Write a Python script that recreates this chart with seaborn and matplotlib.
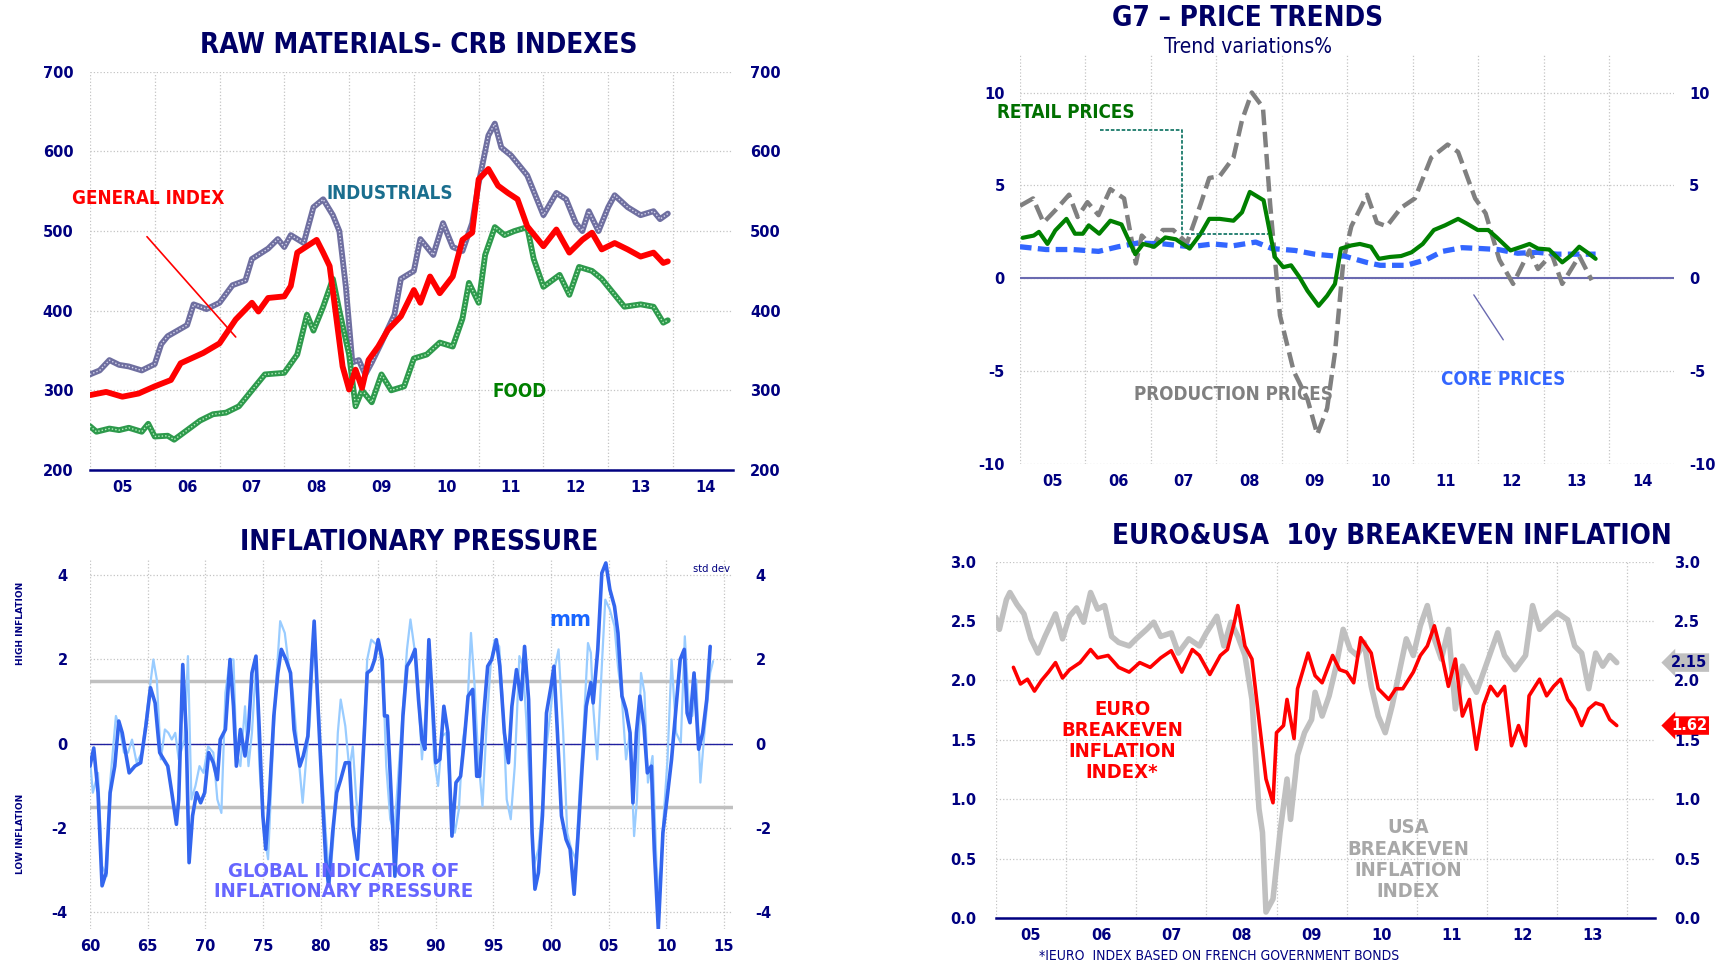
import numpy as np
import matplotlib
matplotlib.use("Agg")
import matplotlib.pyplot as plt
from matplotlib import font_manager as fm
import seaborn as sns

# ---------------- data ----------------
# CRB indexes
gen_x = [2005.0, 2005.25, 2005.5, 2005.75, 2006.0, 2006.25, 2006.4, 2006.75, 2007.0, 2007.25,
         2007.5, 2007.6, 2007.75, 2008.0, 2008.1, 2008.2, 2008.35, 2008.5, 2008.6, 2008.7,
         2008.8, 2008.9, 2009.0, 2009.1, 2009.2, 2009.3, 2009.45, 2009.6, 2009.8, 2010.0,
         2010.1, 2010.25, 2010.4, 2010.6, 2010.75, 2010.9, 2011.0, 2011.15, 2011.3, 2011.45,
         2011.6, 2011.75, 2012.0, 2012.2, 2012.4, 2012.6, 2012.75, 2012.9, 2013.1, 2013.3,
         2013.5, 2013.7, 2013.85, 2013.92]
gen_y = [294, 298, 292, 296, 305, 313, 334, 347, 359, 389,
         410, 399, 416, 418, 431, 473, 481, 489, 473, 456,
         393, 330, 301, 326, 303, 338, 355, 376, 393, 426,
         410, 443, 422, 443, 489, 498, 565, 578, 557, 548,
         540, 506, 481, 502, 473, 489, 498, 477, 485, 477,
         468, 473, 460, 462]
ind_x = [2005.0, 2005.15, 2005.3, 2005.45, 2005.6, 2005.8, 2006.0, 2006.1, 2006.2, 2006.35,
         2006.5, 2006.6, 2006.8, 2007.0, 2007.2, 2007.4, 2007.5, 2007.75, 2007.9, 2008.0,
         2008.1, 2008.3, 2008.45, 2008.6, 2008.75, 2008.85, 2008.95, 2009.05, 2009.15, 2009.25,
         2009.35, 2009.5, 2009.7, 2009.8, 2010.0, 2010.1, 2010.3, 2010.45, 2010.6, 2010.75,
         2010.9, 2011.0, 2011.15, 2011.25, 2011.35, 2011.5, 2011.75, 2011.9, 2012.0, 2012.2,
         2012.35, 2012.5, 2012.6, 2012.7, 2012.85, 2013.0, 2013.1, 2013.3, 2013.5, 2013.7,
         2013.8, 2013.92]
ind_y = [320, 325, 338, 332, 330, 325, 333, 358, 368, 375,
         382, 408, 402, 410, 432, 438, 465, 478, 490, 480,
         495, 485, 530, 540, 520, 500, 430, 335, 338, 320,
         335, 360, 395, 440, 450, 490, 470, 510, 480, 475,
         510, 560, 620, 635, 605, 595, 570, 540, 520, 548,
         540, 510, 500, 525, 500, 530, 545, 530, 520, 525,
         515, 522]
food_x = [2005.0, 2005.1, 2005.3, 2005.45, 2005.6, 2005.8, 2005.9, 2006.0, 2006.2, 2006.3,
          2006.5, 2006.7, 2006.9, 2007.1, 2007.3, 2007.5, 2007.7, 2008.0, 2008.2, 2008.35,
          2008.45, 2008.6, 2008.75, 2008.85, 2009.0, 2009.1, 2009.2, 2009.35, 2009.5, 2009.65,
          2009.85, 2010.0, 2010.2, 2010.4, 2010.6, 2010.75, 2010.85, 2011.0, 2011.1, 2011.25,
          2011.4, 2011.55, 2011.75, 2011.85, 2012.0, 2012.25, 2012.4, 2012.55, 2012.75, 2012.9,
          2013.1, 2013.25, 2013.5, 2013.7, 2013.85, 2013.92]
food_y = [255, 248, 252, 250, 253, 248, 258, 242, 243, 238,
          250, 262, 270, 272, 280, 300, 320, 322, 345, 395,
          375, 405, 440, 400, 345, 280, 300, 285, 320, 300,
          305, 340, 345, 360, 355, 390, 435, 410, 470, 505,
          495, 500, 505, 465, 430, 445, 420, 455, 450, 440,
          420, 405, 408, 405, 385, 388]

# G7 price trends
retail_x = [2005.04, 2005.21, 2005.29, 2005.42, 2005.54, 2005.71, 2005.84, 2005.96, 2006.05, 2006.21,
            2006.38, 2006.55, 2006.76, 2006.88, 2007.05, 2007.22, 2007.38, 2007.59, 2007.76, 2007.89,
            2008.05, 2008.26, 2008.39, 2008.51, 2008.72, 2008.89, 2009.02, 2009.14, 2009.27, 2009.39,
            2009.56, 2009.69, 2009.81, 2009.9, 2010.06, 2010.19, 2010.36, 2010.48, 2010.65, 2010.82,
            2010.98, 2011.15, 2011.32, 2011.49, 2011.69, 2011.82, 2011.99, 2012.15, 2012.28, 2012.49,
            2012.66, 2012.78, 2012.91, 2013.08, 2013.28, 2013.41, 2013.54, 2013.66, 2013.79]
retail_y = [2.18, 2.3, 2.5, 1.85, 2.58, 3.2, 2.4, 2.4, 2.85, 2.4,
            3.1, 2.9, 1.3, 1.85, 1.7, 2.2, 2.1, 1.6, 2.4, 3.2,
            3.2, 3.1, 3.55, 4.65, 4.2, 1.15, 0.6, 0.7, 0.05, -0.67,
            -1.48, -0.94, -0.3, 1.6, 1.77, 1.85, 1.7, 1.05, 1.15, 1.2,
            1.4, 1.85, 2.6, 2.85, 3.2, 2.95, 2.6, 2.6, 2.2, 1.5,
            1.7, 1.85, 1.6, 1.55, 0.86, 1.22, 1.7, 1.4, 1.05]
core_x = [2005.0, 2005.4, 2005.8, 2006.2, 2006.5, 2006.8, 2007.2, 2007.6, 2007.95, 2008.25,
          2008.6, 2008.85, 2009.2, 2009.5, 2009.8, 2009.95, 2010.3, 2010.5, 2010.9, 2011.2,
          2011.45, 2011.75, 2012.05, 2012.3, 2012.6, 2012.9, 2013.2, 2013.5, 2013.79]
core_y = [1.7, 1.55, 1.55, 1.45, 1.7, 1.9, 1.85, 1.7, 1.85, 1.75,
          1.95, 1.6, 1.5, 1.3, 1.2, 1.2, 0.85, 0.7, 0.7, 1.0,
          1.45, 1.65, 1.6, 1.55, 1.35, 1.4, 1.3, 1.3, 1.3]
prod_x = [2005.0, 2005.2, 2005.36, 2005.55, 2005.75, 2005.88, 2006.03, 2006.2, 2006.38, 2006.59,
          2006.77, 2006.86, 2007.03, 2007.18, 2007.34, 2007.55, 2007.76, 2007.89, 2008.05, 2008.26,
          2008.39, 2008.54, 2008.71, 2008.82, 2008.97, 2009.18, 2009.39, 2009.54, 2009.69, 2009.81,
          2009.94, 2010.06, 2010.3, 2010.45, 2010.6, 2010.82, 2011.03, 2011.28, 2011.53, 2011.69,
          2011.95, 2012.11, 2012.32, 2012.53, 2012.78, 2012.91, 2013.12, 2013.28, 2013.54, 2013.73]
prod_y = [3.9, 4.3, 3.0, 3.7, 4.5, 3.3, 4.1, 3.4, 4.8, 4.3,
          0.8, 2.3, 1.7, 2.6, 2.6, 1.9, 4.0, 5.4, 5.5, 6.5,
          8.5, 10.0, 9.2, 4.0, -2.0, -5.0, -6.5, -8.4, -7.0, -4.0,
          1.0, 2.8, 4.5, 3.0, 2.8, 3.8, 4.3, 6.5, 7.2, 6.8,
          4.3, 3.5, 1.0, -0.3, 1.5, 0.5, 1.3, -0.3, 1.2, -0.1]

# Inflationary pressure (std dev)
dk_x = [1960.0, 1960.33, 1960.7, 1961.05, 1961.4, 1961.75, 1962.15, 1962.5, 1962.8, 1963.1,
        1963.4, 1963.9, 1964.4, 1964.85, 1965.25, 1965.65, 1966.05, 1966.4, 1966.75, 1967.1,
        1967.5, 1967.7, 1968.05, 1968.35, 1968.6, 1968.9, 1969.25, 1969.6, 1969.95, 1970.3,
        1970.7, 1971.05, 1971.3, 1971.75, 1972.15, 1972.45, 1972.7, 1973.05, 1973.45, 1973.75,
        1974.05, 1974.4, 1974.7, 1975.0, 1975.25, 1975.55, 1975.95, 1976.3, 1976.6, 1977.0,
        1977.4, 1977.7, 1978.2, 1978.5, 1978.9, 1979.25, 1979.45, 1979.75, 1980.1, 1980.45,
        1980.7, 1981.05, 1981.4, 1981.75, 1982.15, 1982.5, 1982.8, 1983.2, 1983.5, 1983.8,
        1984.05, 1984.4, 1984.7, 1985.0, 1985.35, 1985.55, 1985.8, 1986.15, 1986.45, 1986.8,
        1987.15, 1987.5, 1987.85, 1988.2, 1988.5, 1988.8, 1989.05, 1989.4, 1989.7, 1990.0,
        1990.35, 1990.7, 1991.05, 1991.4, 1991.75, 1992.15, 1992.45, 1992.8, 1993.2, 1993.55,
        1993.8, 1994.15, 1994.5, 1994.85, 1995.25, 1995.55, 1995.95, 1996.3, 1996.6, 1997.0,
        1997.4, 1997.7, 1998.05, 1998.35, 1998.6, 1998.9, 1999.25, 1999.6, 2000.0, 2000.25,
        2000.55, 2000.9, 2001.3, 2001.65, 2002.0, 2002.35, 2002.7, 2003.05, 2003.45, 2003.65,
        2004.05, 2004.4, 2004.75, 2005.1, 2005.5, 2005.8, 2006.15, 2006.5, 2006.85, 2007.1,
        2007.4, 2007.7, 2008.05, 2008.35, 2008.7, 2008.95, 2009.3, 2009.7, 2010.05, 2010.45,
        2010.85, 2011.2, 2011.55, 2011.8, 2012.05, 2012.4, 2012.8, 2013.15, 2013.5, 2013.8]
dk_y = [-0.53, -0.1, -1.16, -3.37, -3.06, -1.16, -0.53, 0.54, 0.26, -0.21,
        -0.69, -0.53, -0.45, 0.42, 1.33, 0.97, -0.21, -0.37, -0.53, -1.16,
        -1.91, -1.32, 1.88, 0.26, -2.82, -1.71, -1.16, -1.4, -1.16, -0.21,
        -0.45, -0.85, 0.1, 0.34, 2.0, 0.89, -0.53, 0.34, -0.29, 0.34,
        1.68, 2.08, 0.26, -1.71, -2.5, -1.32, 0.66, 1.68, 2.24, 2.0,
        1.68, 0.34, -0.53, -0.29, 0.18, 2.0, 2.91, 1.05, -0.92, -2.74,
        -3.37, -2.11, -1.16, -0.85, -0.45, -0.45, -1.94, -2.74, -1.32, 0.26,
        1.68, 1.76, 2.0, 2.47, 2.0, 0.66, 0.66, -1.32, -3.14, -1.32,
        0.66, 1.84, 2.0, 2.24, 1.05, 0.1, -0.13, 2.47, 1.05, -0.45,
        -0.37, 0.89, 0.26, -2.19, -0.92, -0.77, 0.02, 1.13, 1.29, -0.77,
        -0.77, 0.66, 1.84, 2.0, 2.47, 1.84, 0.26, -0.45, 0.89, 1.76,
        1.05, 2.31, 1.05, -2.11, -3.45, -3.06, -1.71, 0.73, 1.37, 1.84,
        0.26, -1.71, -2.27, -2.5, -3.57, -2.11, -0.53, 0.89, 1.45, 0.97,
        2.24, 4.05, 4.29, 3.66, 3.26, 2.63, 1.13, 0.81, 0.26, -1.4,
        0.26, 1.13, 0.42, -0.69, -0.53, -2.5, -4.4, -2.11, -1.32, -0.37,
        0.89, 2.0, 2.24, 0.73, 0.5, 1.68, -0.13, 0.26, 1.05, 2.31]
lt_x = [1960.0, 1960.25, 1960.7, 1961.05, 1961.45, 1961.75, 1962.25, 1962.6, 1962.95, 1963.3,
        1963.65, 1964.05, 1964.5, 1965.0, 1965.5, 1965.8, 1966.15, 1966.5, 1966.8, 1967.1,
        1967.4, 1967.7, 1968.2, 1968.5, 1968.8, 1969.15, 1969.5, 1969.85, 1970.25, 1970.7,
        1971.05, 1971.4, 1971.75, 1972.15, 1972.45, 1972.7, 1973.05, 1973.45, 1973.75, 1974.05,
        1974.4, 1974.7, 1975.1, 1975.45, 1975.8, 1976.15, 1976.5, 1976.9, 1977.25, 1977.6,
        1977.95, 1978.45, 1978.8, 1979.05, 1979.4, 1979.75, 1980.1, 1980.45, 1980.8, 1981.15,
        1981.5, 1981.75, 1982.15, 1982.5, 1982.8, 1983.1, 1983.4, 1983.75, 1984.05, 1984.4,
        1984.7, 1985.1, 1985.45, 1985.7, 1986.05, 1986.4, 1986.8, 1987.15, 1987.5, 1987.8,
        1988.2, 1988.5, 1988.8, 1989.15, 1989.45, 1989.85, 1990.2, 1990.55, 1990.9, 1991.3,
        1991.65, 1992.0, 1992.35, 1992.7, 1993.05, 1993.35, 1993.65, 1994.05, 1994.4, 1994.75,
        1995.1, 1995.5, 1995.8, 1996.15, 1996.5, 1996.85, 1997.25, 1997.55, 1997.85, 1998.2,
        1998.5, 1998.9, 1999.3, 1999.6, 2000.0, 2000.35, 2000.65, 2001.05, 2001.4, 2001.75,
        2002.15, 2002.5, 2002.8, 2003.2, 2003.45, 2003.65, 2004.0, 2004.4, 2004.7, 2005.1,
        2005.5, 2005.8, 2006.15, 2006.5, 2006.85, 2007.2, 2007.45, 2007.8, 2008.1, 2008.4,
        2008.8, 2009.15, 2009.4, 2009.75, 2010.1, 2010.45, 2010.85, 2011.25, 2011.6, 2011.95,
        2012.25, 2012.6, 2012.95, 2013.3, 2013.8, 2014.05]
lt_y = [-0.37, -1.16, -0.69, -2.9, -3.14, -0.92, 0.66, 0.34, -0.21, -0.21,
        0.1, -0.45, -0.21, 0.89, 2.0, 1.52, -0.37, 0.34, 0.26, 0.1,
        0.26, -0.37, 0.1, 2.08, -1.32, -1.0, -0.53, -0.69, -0.06, -0.21,
        -1.32, -1.64, 1.21, 2.0, 2.0, -0.21, -0.53, 0.89, -0.53, 0.26,
        1.84, -0.53, -2.11, -2.74, -0.53, 1.45, 2.91, 2.63, 1.84, 1.21,
        0.1, -1.4, -0.21, 0.42, 2.47, 1.37, -0.53, -2.11, -3.29, -2.11,
        0.26, 1.05, 0.42, -0.61, -0.06, -1.32, -2.11, 0.26, 2.0, 2.47,
        2.39, 2.31, 1.45, -0.53, -1.79, -2.11, -0.53, 0.89, 2.24, 2.95,
        2.16, 1.05, -0.37, 0.89, 2.24, -0.37, -1.0, 0.18, 0.26, -1.32,
        -2.11, -1.56, 0.1, 0.66, 2.63, 1.45, -0.21, -1.48, 0.42, 1.84,
        2.47, 2.31, 1.05, -1.32, -1.79, -0.53, 2.08, 1.84, 0.58, -1.32,
        -2.9, -2.5, -1.32, -0.06, 0.89, 1.84, 2.24, 0.26, -2.11, -2.5,
        -2.74, -1.0, 0.26, 2.39, 2.16, 0.89, -0.37, 1.84, 3.42, 3.18,
        2.79, 1.84, 1.05, -0.37, 0.26, -2.19, -1.32, 1.68, 1.21, -0.92,
        -0.29, -2.9, -3.69, -1.79, -0.37, 2.0, 0.26, 0.02, 2.55, 0.89,
        0.66, 1.52, -0.92, 0.26, 1.68, 1.96]
band = [1.5, -1.5]

# 10y breakeven inflation
usa_x = [2005.0, 2005.05, 2005.15, 2005.2, 2005.3, 2005.4, 2005.5, 2005.6, 2005.7, 2005.85,
         2005.95, 2006.05, 2006.15, 2006.25, 2006.35, 2006.45, 2006.55, 2006.65, 2006.75, 2006.9,
         2007.0, 2007.15, 2007.25, 2007.35, 2007.5, 2007.6, 2007.75, 2007.9, 2008.0, 2008.15,
         2008.25, 2008.35, 2008.45, 2008.55, 2008.65, 2008.75, 2008.8, 2008.85, 2008.95, 2009.05,
         2009.15, 2009.2, 2009.3, 2009.4, 2009.5, 2009.55, 2009.65, 2009.75, 2009.85, 2009.95,
         2010.05, 2010.15, 2010.25, 2010.35, 2010.45, 2010.55, 2010.65, 2010.75, 2010.85, 2010.95,
         2011.05, 2011.15, 2011.25, 2011.35, 2011.45, 2011.55, 2011.65, 2011.75, 2011.85, 2012.0,
         2012.15, 2012.25, 2012.4, 2012.55, 2012.65, 2012.75, 2012.85, 2013.0, 2013.15, 2013.25,
         2013.35, 2013.45, 2013.55, 2013.65, 2013.75, 2013.85]
usa_y = [2.53, 2.43, 2.68, 2.74, 2.64, 2.56, 2.35, 2.23, 2.37, 2.56,
         2.35, 2.54, 2.61, 2.49, 2.74, 2.6, 2.63, 2.37, 2.32, 2.29,
         2.35, 2.43, 2.49, 2.37, 2.4, 2.23, 2.35, 2.29, 2.4, 2.54,
         2.29, 2.49, 2.37, 2.21, 1.84, 0.92, 0.72, 0.05, 0.16, 0.72,
         1.17, 0.83, 1.37, 1.56, 1.67, 1.9, 1.7, 1.87, 2.12, 2.43,
         2.26, 2.21, 2.32, 1.95, 1.7, 1.56, 1.79, 2.07, 2.35, 2.21,
         2.46, 2.63, 2.35, 2.18, 2.43, 1.76, 2.12, 2.01, 1.9, 2.15,
         2.4, 2.21, 2.09, 2.21, 2.63, 2.43, 2.49, 2.57, 2.51, 2.29,
         2.23, 1.93, 2.23, 2.12, 2.21, 2.15]
eur_x = [2005.25, 2005.35, 2005.45, 2005.55, 2005.65, 2005.75, 2005.85, 2005.95, 2006.05, 2006.2,
         2006.35, 2006.45, 2006.6, 2006.75, 2006.9, 2007.05, 2007.2, 2007.35, 2007.5, 2007.65,
         2007.8, 2007.9, 2008.05, 2008.2, 2008.3, 2008.4, 2008.45, 2008.55, 2008.65, 2008.75,
         2008.85, 2008.95, 2009.0, 2009.1, 2009.15, 2009.25, 2009.3, 2009.45, 2009.55, 2009.65,
         2009.8, 2009.9, 2010.0, 2010.1, 2010.2, 2010.35, 2010.45, 2010.6, 2010.7, 2010.8,
         2010.95, 2011.05, 2011.15, 2011.25, 2011.35, 2011.45, 2011.55, 2011.65, 2011.75, 2011.85,
         2011.95, 2012.05, 2012.15, 2012.25, 2012.35, 2012.45, 2012.55, 2012.6, 2012.75, 2012.85,
         2012.95, 2013.05, 2013.15, 2013.25, 2013.35, 2013.45, 2013.55, 2013.65, 2013.75, 2013.85]
eur_y = [2.11, 1.97, 2.01, 1.91, 2.0, 2.07, 2.15, 2.02, 2.09, 2.15,
         2.26, 2.19, 2.21, 2.11, 2.07, 2.15, 2.11, 2.19, 2.25, 2.07,
         2.26, 2.21, 2.05, 2.21, 2.26, 2.49, 2.63, 2.29, 2.18, 1.67,
         1.17, 0.97, 1.56, 1.62, 1.84, 1.51, 1.93, 2.23, 2.04, 1.98,
         2.21, 2.09, 2.07, 1.98, 2.36, 2.23, 1.93, 1.84, 1.93, 1.93,
         2.07, 2.21, 2.29, 2.46, 2.23, 1.95, 2.18, 1.7, 1.84, 1.42,
         1.79, 1.95, 1.87, 1.95, 1.45, 1.62, 1.45, 1.87, 2.01, 1.87,
         1.95, 2.01, 1.84, 1.76, 1.62, 1.76, 1.81, 1.79, 1.67, 1.62]

# ---------------- style ----------------
sns.set_style("white")
plt.rcParams['font.family'] = ['DejaVu Sans']
plt.rcParams['font.weight'] = 'bold'
NAVY = '#000080'
TITLE_C = '#000066'
GRID = dict(ls=':', color='#c4c4c4', lw=0.9)

# narrow face for titles / labels: condensed DejaVu if present, else plain DejaVu scaled down
_files = [f.fname for f in fm.fontManager.ttflist]
_cond_b = [p for p in _files if p.endswith('DejaVuSansCondensed-Bold.ttf')]
_cond_r = [p for p in _files if p.endswith('DejaVuSansCondensed.ttf')]
if _cond_b:
    SCALE = 1.0
else:
    SCALE = 0.88


def nf(size, bold=True):
    if bold and _cond_b:
        return fm.FontProperties(fname=_cond_b[0], size=size)
    if not bold and _cond_r:
        return fm.FontProperties(fname=_cond_r[0], size=size)
    return fm.FontProperties(family='DejaVu Sans', weight='bold' if bold else 'normal',
                             size=size * SCALE)


fig = plt.figure(figsize=(17.2, 9.71), dpi=100)
ax1 = fig.add_axes([0.0523, 0.516, 0.374, 0.41])
ax2 = fig.add_axes([0.593, 0.522, 0.380, 0.421])
ax3 = fig.add_axes([0.0523, 0.043, 0.374, 0.382])
ax4 = fig.add_axes([0.579, 0.0546, 0.383, 0.367])


def year_axis(ax, first, last_label, last_bound, xmax, marks=True):
    bounds = np.arange(first, last_bound + 1)
    ax.set_xticks(bounds)
    ax.set_xticklabels([])
    mids = np.arange(first, last_label + 1) + 0.5
    ax.set_xticks(mids, minor=True)
    ax.set_xticklabels([f"{int(m) % 100:02d}" for m in mids], minor=True)
    ax.tick_params(axis='x', which='major', length=6 if marks else 0,
                   direction='inout', color=NAVY, width=1)
    ax.tick_params(axis='x', which='minor', length=0, labelsize=10.5,
                   labelcolor=NAVY, pad=7)
    ax.set_xlim(first, xmax)
    ax.grid(True, which='major', axis='x', **GRID)


def y_axis(ax, lo, hi, ticks, fmt, pad=10):
    ax.set_ylim(lo, hi)
    ax.set_yticks(ticks)
    ax.set_yticklabels([fmt.format(t) for t in ticks])
    ax.tick_params(axis='y', length=0, labelleft=True, labelright=True,
                   labelsize=10.5, labelcolor=NAVY, pad=pad)
    ax.grid(True, axis='y', **GRID)


def clean(ax, bottom=True):
    for s in ['top', 'left', 'right']:
        ax.spines[s].set_visible(False)
    ax.spines['bottom'].set_visible(bottom)
    ax.spines['bottom'].set_color(NAVY)
    ax.spines['bottom'].set_linewidth(1.8)


# ---------------- panel 1: CRB ----------------
sns.lineplot(x=ind_x, y=ind_y, ax=ax1, color='#6f6fa0', lw=4.2, estimator=None, sort=False)
sns.lineplot(x=ind_x, y=ind_y, ax=ax1, color='#d8d8ee', lw=1.0, estimator=None, sort=False,
             linestyle=(0, (1, 1.5)))
sns.lineplot(x=food_x, y=food_y, ax=ax1, color='#2e9a4c', lw=4.2, estimator=None, sort=False)
sns.lineplot(x=food_x, y=food_y, ax=ax1, color='#b8f0c0', lw=1.0, estimator=None, sort=False,
             linestyle=(0, (1, 1.5)))
sns.lineplot(x=gen_x, y=gen_y, ax=ax1, color='#ff0000', lw=4.2, estimator=None, sort=False)
year_axis(ax1, 2005, 2014, 2014, 2014.93)
y_axis(ax1, 200, 700, [200, 300, 400, 500, 600, 700], "{:d}", pad=12)
clean(ax1)
fig.text(0.2435, 0.954, "RAW MATERIALS- CRB INDEXES", fontproperties=nf(20),
         color=TITLE_C, ha='center', va='center')
ax1.text(2005.9, 541, "GENERAL INDEX", color='#ff0000', fontproperties=nf(13.5),
         ha='center', va='center')
ax1.plot([2005.88, 2007.25], [493, 367], color='#ff0000', lw=1.2)
ax1.text(2009.63, 547, "INDUSTRIALS", color='#1a6e8e', fontproperties=nf(13.5),
         ha='center', va='center')
ax1.text(2011.64, 299, "FOOD", color='#008000', fontproperties=nf(13.5),
         ha='center', va='center')

# ---------------- panel 2: G7 prices ----------------
ax2.axhline(0, color='#6a6ab0', lw=1.5)
sns.lineplot(x=prod_x, y=prod_y, ax=ax2, color='#808080', lw=3.2, estimator=None, sort=False,
             linestyle=(0, (3.5, 1.5)))
sns.lineplot(x=core_x, y=core_y, ax=ax2, color='#3366ff', lw=3.8, estimator=None, sort=False,
             linestyle=(0, (2.2, 1.2)))
sns.lineplot(x=retail_x, y=retail_y, ax=ax2, color='#008000', lw=3.0, estimator=None, sort=False)
year_axis(ax2, 2005, 2014, 2014, 2014.98, marks=False)
y_axis(ax2, -10, 12, [-10, -5, 0, 5, 10], "{:d}", pad=11)
clean(ax2, bottom=False)
fig.text(0.7255, 0.981, "G7 \u2013 PRICE TRENDS", fontproperties=nf(20), color=TITLE_C,
         ha='center', va='center')
fig.text(0.7255, 0.952, "Trend variations%", fontproperties=nf(15, bold=False),
         color=TITLE_C, ha='center', va='center')
ax2.text(2005.7, 8.9, "RETAIL PRICES", color='#007000', fontproperties=nf(13.5),
         ha='center', va='center')
ax2.plot([2006.22, 2007.47, 2007.47, 2008.78], [8.0, 8.0, 2.36, 2.36], color='#1a7a6a',
         lw=1.3, ls=(0, (2, 1)))
ax2.text(2008.26, -6.27, "PRODUCTION PRICES", color='#808080', fontproperties=nf(13.5),
         ha='center', va='center')
ax2.text(2012.38, -5.44, "CORE PRICES", color='#3366ff', fontproperties=nf(13.5),
         ha='center', va='center')
ax2.plot([2011.93, 2012.38], [-0.89, -3.31], color='#6a6ab0', lw=1.0)

# ---------------- panel 3: inflationary pressure ----------------
for b in band:
    ax3.axhline(b, color='#c0c0c0', lw=2.5)
ax3.axhline(0, color='#2020a0', lw=1.0)
sns.lineplot(x=lt_x, y=lt_y, ax=ax3, color='#99ccff', lw=1.6, estimator=None, sort=False)
sns.lineplot(x=dk_x, y=dk_y, ax=ax3, color='#3366ee', lw=2.6, estimator=None, sort=False)
yr5 = np.arange(1960, 2016, 5)
ax3.set_xticks(yr5)
ax3.set_xticklabels([f"{y % 100:02d}" for y in yr5])
ax3.tick_params(axis='x', length=0, labelsize=10.5, labelcolor=NAVY, pad=7)
ax3.set_xlim(1960, 2015.8)
ax3.grid(True, axis='x', **GRID)
y_axis(ax3, -4.4, 4.4, [-4, -2, 0, 2, 4], "{:d}", pad=16)
clean(ax3, bottom=False)
fig.text(0.2435, 0.442, "INFLATIONARY PRESSURE", fontproperties=nf(20), color=TITLE_C,
         ha='center', va='center')
ax3.text(0.995, 0.985, "std dev", transform=ax3.transAxes, fontproperties=nf(8, bold=False),
         color=NAVY, ha='right', va='top')
ax3.text(2001.7, 2.93, "mm", color='#1a66ff', fontproperties=nf(16),
         ha='center', va='center')
ax3.text(1982.0, -3.27, "GLOBAL INDICATOR OF\nINFLATIONARY PRESSURE", color='#6666ff',
         fontproperties=nf(14.5), ha='center', va='center', linespacing=1.05)
fig.text(0.012, 0.358, "HIGH INFLATION", rotation=90, fontsize=6.5, color=NAVY,
         ha='center', va='center')
fig.text(0.012, 0.141, "LOW INFLATION", rotation=90, fontsize=6.5, color=NAVY,
         ha='center', va='center')

# ---------------- panel 4: breakeven ----------------
sns.lineplot(x=usa_x, y=usa_y, ax=ax4, color='#c0c0c0', lw=4.0, estimator=None, sort=False)
sns.lineplot(x=eur_x, y=eur_y, ax=ax4, color='#ff0000', lw=2.6, estimator=None, sort=False)
year_axis(ax4, 2005, 2013, 2014, 2014.39)
y_axis(ax4, 0, 3, [0.0, 0.5, 1.0, 1.5, 2.0, 2.5, 3.0], "{:.1f}", pad=14)
clean(ax4)
fig.text(0.809, 0.448, "EURO&USA  10y BREAKEVEN INFLATION", fontproperties=nf(20),
         color=TITLE_C, ha='center', va='center')
ax4.text(2006.8, 1.49, "EURO\nBREAKEVEN\nINFLATION\nINDEX*", color='#ff0000',
         fontproperties=nf(14.5), ha='center', va='center', linespacing=1.15)
ax4.text(2010.88, 0.49, "USA\nBREAKEVEN\nINFLATION\nINDEX", color='#a8a8a8',
         fontproperties=nf(14.5), ha='center', va='center', linespacing=1.15)
yt = ax4.get_yaxis_transform()
ax4.text(1.025, usa_y[-1], f"{usa_y[-1]:.2f}", transform=yt, color=NAVY, fontsize=10.5,
         ha='left', va='center', bbox=dict(boxstyle='larrow,pad=0.12', fc='#c0c0c0', ec='none'))
ax4.text(1.025, eur_y[-1], f"{eur_y[-1]:.2f}", transform=yt, color='white', fontsize=10.5,
         ha='left', va='center', bbox=dict(boxstyle='larrow,pad=0.12', fc='#ff0000', ec='none'))
fig.text(0.604, 0.008, "*IEURO  INDEX BASED ON FRENCH GOVERNMENT BONDS",
         fontproperties=nf(10, bold=False), color=NAVY, ha='left', va='bottom')

for ax in (ax1, ax2, ax3, ax4):
    ax.set_xlabel("")
    ax.set_ylabel("")

fig.savefig("out.png", dpi=100)
